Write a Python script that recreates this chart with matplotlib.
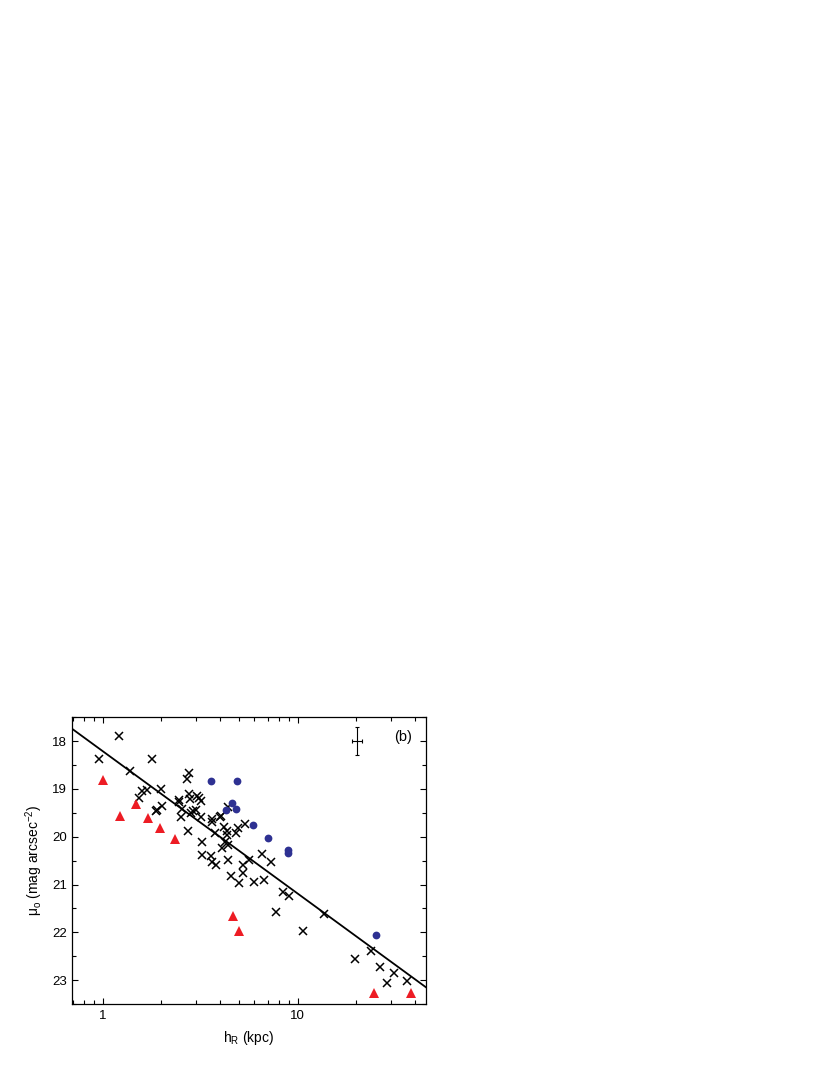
import numpy as np
import matplotlib
matplotlib.use("Agg")
import matplotlib.pyplot as plt
from matplotlib.ticker import FixedLocator, NullFormatter, MultipleLocator

plt.rcParams['font.family'] = ['Liberation Sans', 'DejaVu Sans']
plt.rcParams['mathtext.fontset'] = 'custom'
plt.rcParams['mathtext.rm'] = 'Liberation Sans'
plt.rcParams['mathtext.it'] = 'Liberation Sans:italic'

# ---- data ----
cross_h = [0.954, 1.213, 1.381, 1.798, 1.536, 1.585, 1.681, 1.877, 1.906, 2.0,
           2.007, 2.454, 2.472, 2.543, 2.522, 2.697, 2.761, 2.729, 2.782, 2.805,
           2.827, 2.917, 2.999, 3.034, 3.131, 3.193, 3.181, 3.219, 3.245, 3.579,
           3.623, 3.651, 3.651, 3.782, 3.797, 3.998, 4.061, 4.19, 4.11, 4.24,
           4.324, 4.392, 4.358, 4.41, 4.392, 4.533, 4.829, 4.963, 5.022, 5.224,
           5.265, 5.37, 5.651, 5.996, 6.59, 6.694, 7.27, 7.743, 8.444, 9.064,
           10.69, 13.7, 19.75, 23.77, 26.44, 28.83, 31.19, 36.5]
cross_mu = [18.38, 17.90, 18.63, 18.38, 19.18, 19.05, 19.02, 19.47, 19.45, 19.00,
            19.35, 19.24, 19.27, 19.42, 19.59, 18.80, 18.67, 19.89, 19.10, 19.21,
            19.51, 19.47, 19.44, 19.14, 19.18, 19.25, 19.59, 20.11, 20.38, 20.40,
            19.63, 19.69, 20.53, 19.92, 20.59, 19.58, 19.56, 19.79, 20.24, 20.10,
            19.96, 19.37, 19.89, 20.18, 20.48, 20.82, 19.92, 19.82, 20.97, 20.75,
            20.60, 19.74, 20.48, 20.95, 20.36, 20.90, 20.53, 21.58, 21.16, 21.23,
            21.98, 21.62, 22.56, 22.40, 22.73, 23.05, 22.85, 23.01]

tri_h = [1.0, 1.227, 1.483, 1.714, 1.97, 2.36, 4.67, 5.0, 24.5, 38.0]
tri_mu = [18.81, 19.56, 19.32, 19.61, 19.81, 20.05, 21.65, 21.98, 23.27, 23.26]

dot_h = [3.58, 4.87, 4.27, 4.62, 4.83, 5.89, 7.07, 8.89, 8.89, 25.1]
dot_mu = [18.84, 18.83, 19.45, 19.30, 19.41, 19.76, 20.03, 20.28, 20.34, 22.06]

fit_intercept = 18.21
fit_slope = 2.98

err_h, err_mu = 20.2, 18.0
err_h_lo, err_h_hi = 1.2, 1.1
err_mu_size = 0.3

xticks_major = [1, 10]
yticks_major = [18, 19, 20, 21, 22, 23]

# ---- figure ----
fig = plt.figure(figsize=(8.3, 10.75), dpi=100)
ax = fig.add_axes([0.0871, 0.0660, 0.4258, 0.2668])

xlim = (0.698, 45.3)
xx = np.logspace(np.log10(xlim[0]), np.log10(xlim[1]), 50)
ax.plot(xx, fit_intercept + fit_slope * np.log10(xx), color='black', lw=1.3, zorder=2)

ax.plot(cross_h, cross_mu, linestyle='none', marker='x', color='black',
        markersize=5.5, markeredgewidth=1.1, zorder=3)
ax.plot(tri_h, tri_mu, linestyle='none', marker='^', color='#ED1C24',
        markersize=6.5, markeredgewidth=0, zorder=3)
ax.plot(dot_h, dot_mu, linestyle='none', marker='o', color='#2E3192',
        markersize=5.6, markeredgewidth=0, zorder=3)

ax.errorbar([err_h], [err_mu], xerr=[[err_h_lo], [err_h_hi]], yerr=err_mu_size,
            fmt='none', ecolor='black', elinewidth=0.8, capsize=1.6, capthick=0.8)
ax.text(34.5, 17.92, '(b)', fontsize=10.5, ha='center', va='center')

ax.set_xscale('log')
ax.set_xlim(*xlim)
ax.set_ylim(23.5, 17.5)
ax.xaxis.set_major_locator(FixedLocator(xticks_major))
ax.set_xticklabels([str(t) for t in xticks_major])
minors = [m * d for d in (0.1, 1, 10) for m in range(2, 10)]
ax.xaxis.set_minor_locator(FixedLocator(minors))
ax.xaxis.set_minor_formatter(NullFormatter())
ax.yaxis.set_major_locator(FixedLocator(yticks_major))
ax.yaxis.set_minor_locator(MultipleLocator(0.5))

ax.tick_params(which='both', direction='in', top=True, right=True, labelsize=9.5)
ax.tick_params(which='major', length=4.5, width=0.8, pad=4)
ax.tick_params(which='minor', length=2.8, width=0.8)
for s in ax.spines.values():
    s.set_linewidth(0.9)

ax.set_xlabel(r'h$_\mathrm{R}$ (kpc)', fontsize=10, labelpad=5)
ax.set_ylabel(r'$\mathrm{\mu_o}$ (mag arcsec$^\mathrm{-2}$)', fontsize=10, labelpad=5)

fig.savefig('out.png', dpi=100)
